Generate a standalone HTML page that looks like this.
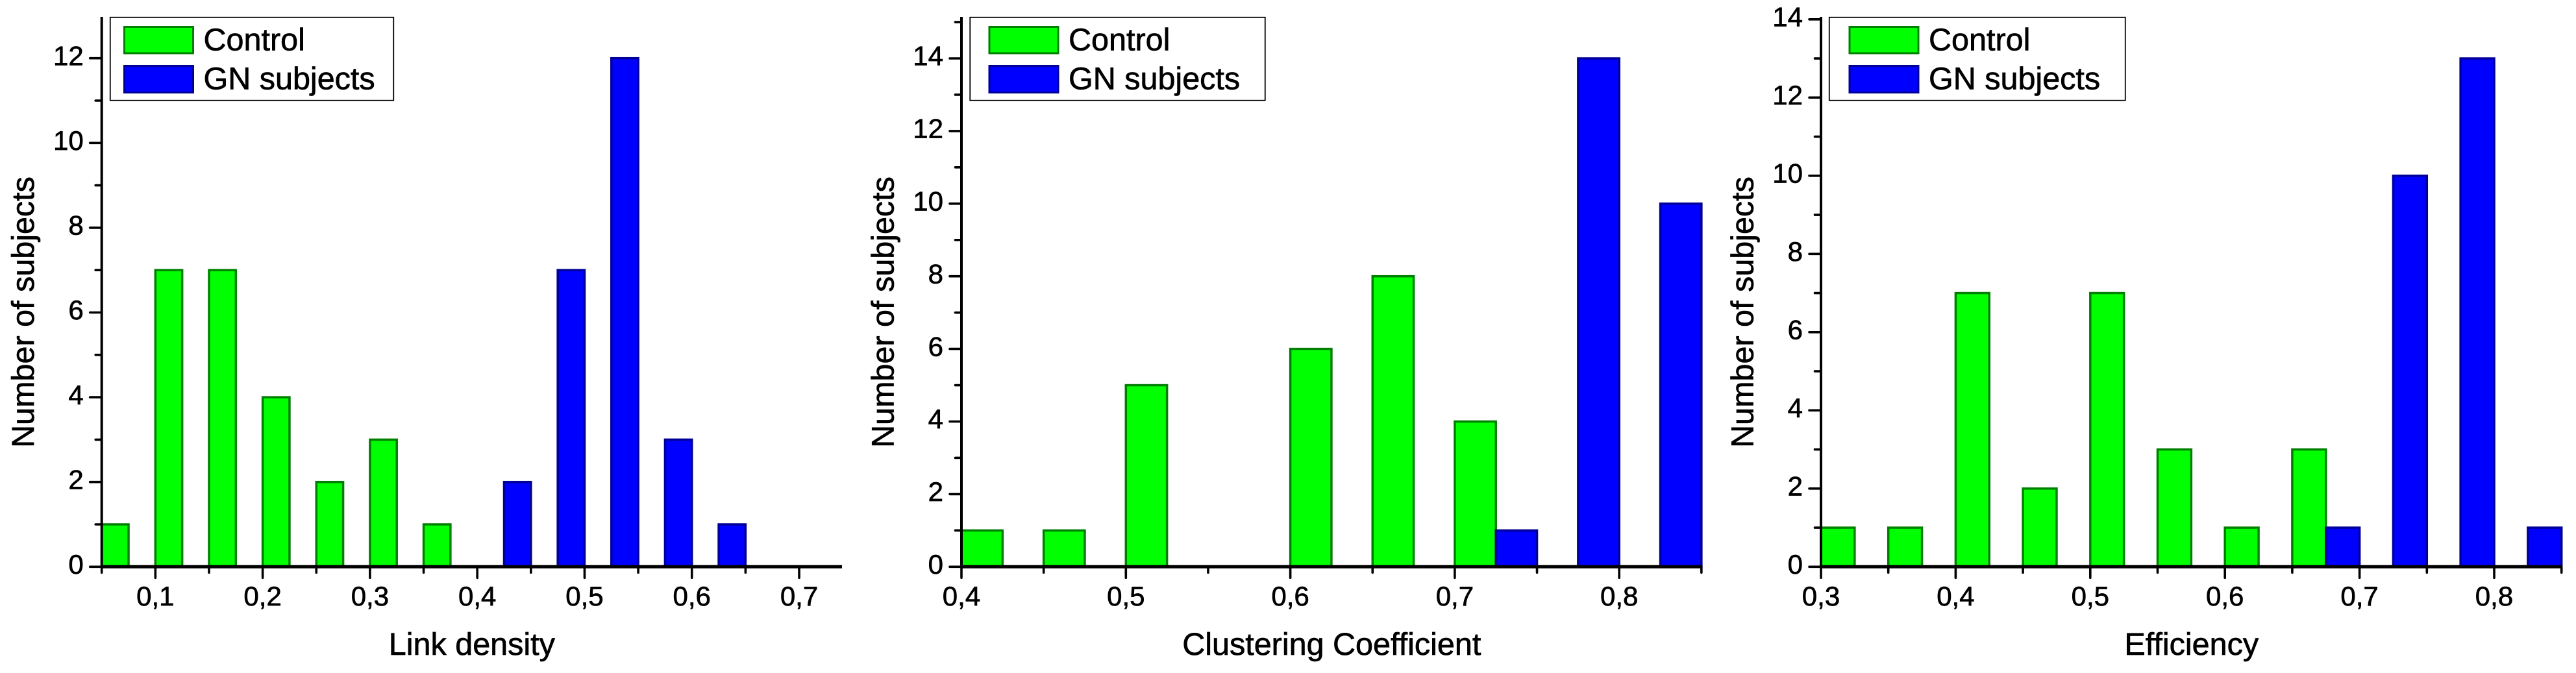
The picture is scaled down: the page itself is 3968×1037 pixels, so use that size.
<!DOCTYPE html>
<html>
<head>
<meta charset="utf-8">
<title>Histograms of network metrics: Control vs GN subjects</title>
<style>
  html, body { margin: 0; padding: 0; background: #ffffff; }
  svg { display: block; }
  text { font-family: "Liberation Sans", Arial, sans-serif; fill: #000000; stroke: #000000; stroke-width: 0.7px; }
</style>
</head>
<body>
<svg id="figure" xmlns="http://www.w3.org/2000/svg" width="3968" height="1037" viewBox="0 0 3968 1037"></svg>
<script>
// ---- Link density data ----
const linkBins = [0.05, 0.10, 0.15, 0.20, 0.25, 0.30, 0.35, 0.40, 0.45, 0.50, 0.55, 0.60];
const linkControl = [1, 7, 7, 4, 2, 3, 1, 0, 0, 0, 0, 0];
const linkGN = [0, 0, 0, 0, 0, 0, 0, 2, 7, 12, 3, 1];
const linkXMajor = [0.1, 0.2, 0.3, 0.4, 0.5, 0.6, 0.7];
const linkXLabels = ['0,1', '0,2', '0,3', '0,4', '0,5', '0,6', '0,7'];
const linkXMinor = [0.05, 0.15, 0.25, 0.35, 0.45, 0.55, 0.65];
const linkYMajor = [0, 2, 4, 6, 8, 10, 12];
const linkYMinor = [1, 3, 5, 7, 9, 11];

// ---- Clustering coefficient data ----
const clusterBins = [0.40, 0.45, 0.50, 0.55, 0.60, 0.65, 0.70, 0.75, 0.80];
const clusterControl = [1, 1, 5, 0, 6, 8, 4, 0, 0];
const clusterGN = [0, 0, 0, 0, 0, 0, 1, 14, 10];
const clusterXMajor = [0.4, 0.5, 0.6, 0.7, 0.8];
const clusterXLabels = ['0,4', '0,5', '0,6', '0,7', '0,8'];
const clusterXMinor = [0.45, 0.55, 0.65, 0.75, 0.85];
const clusterYMajor = [0, 2, 4, 6, 8, 10, 12, 14];
const clusterYMinor = [1, 3, 5, 7, 9, 11, 13, 15];

// ---- Efficiency data ----
const effBins = [0.30, 0.35, 0.40, 0.45, 0.50, 0.55, 0.60, 0.65, 0.70, 0.75, 0.80];
const effControl = [1, 1, 7, 2, 7, 3, 1, 3, 0, 0, 0];
const effGN = [0, 0, 0, 0, 0, 0, 0, 1, 10, 13, 1];
const effXMajor = [0.3, 0.4, 0.5, 0.6, 0.7, 0.8];
const effXLabels = ['0,3', '0,4', '0,5', '0,6', '0,7', '0,8'];
const effXMinor = [0.35, 0.45, 0.55, 0.65, 0.75, 0.85];
const effYMajor = [0, 2, 4, 6, 8, 10, 12, 14];
const effYMinor = [1, 3, 5, 7, 9, 11, 13];

const SVG_NS = 'http://www.w3.org/2000/svg';
const figure = document.getElementById('figure');

function make(tag, attrs, parent) {
  const el = document.createElementNS(SVG_NS, tag);
  for (const k in attrs) el.setAttribute(k, attrs[k]);
  parent.appendChild(el);
  return el;
}

function drawPanel(p) {
  const xScale = v => p.px0 + (v - p.xMin) * p.pxPerX;
  const yScale = v => p.py0 - v * p.pxPerY;
  const binWidth = 0.05;

  const g = make('g', {}, figure);
  
  

  // Bars: control takes the left half of each bin, GN the right half
  [[p.control, '#00ff00', '#008000', 'control', 0], [p.gn, '#0000ff', '#000099', 'gn', 0.5]].forEach(s => {
    p.bins.forEach((bin, i) => {
      const val = s[0][i];
      if (!(val > 0)) return;
      const x1 = xScale(bin + s[4] * binWidth);
      const x2 = xScale(bin + (s[4] + 0.5) * binWidth);
      const rect = make('rect', {
        x: x1, y: yScale(val), width: x2 - x1, height: yScale(0) - yScale(val),
        fill: s[1], stroke: s[2], 'stroke-width': 3.5
      }, g);
      
      
    });
  });

  // X ticks
  p.xMajor.forEach((v, i) => {
    const tick = make('line', { x1: xScale(v), x2: xScale(v), y1: p.py0, y2: p.py0 + 17, stroke: '#000', 'stroke-width': 3.6, 'stroke-linecap': 'round' }, g);
    
    
    const label = make('text', { x: xScale(v), y: 933, 'font-size': 42, 'text-anchor': 'middle' }, g);
    label.textContent = p.xLabels[i];
    
    
  });
  p.xMinor.forEach(v => {
    const tick = make('line', { x1: xScale(v), x2: xScale(v), y1: p.py0, y2: p.py0 + 9, stroke: '#000', 'stroke-width': 3.6, 'stroke-linecap': 'round' }, g);
    
    
  });

  // Y ticks
  p.yMajor.forEach(v => {
    const tick = make('line', { x1: p.px0 - 18, x2: p.px0, y1: yScale(v), y2: yScale(v), stroke: '#000', 'stroke-width': 3.6, 'stroke-linecap': 'round' }, g);
    
    
    const label = make('text', { x: p.px0 - 28, y: yScale(v) + 10.7, 'font-size': 42, 'text-anchor': 'end' }, g);
    label.textContent = String(v);
    
    
  });
  p.yMinor.forEach(v => {
    const tick = make('line', { x1: p.px0 - 9.5, x2: p.px0, y1: yScale(v), y2: yScale(v), stroke: '#000', 'stroke-width': 3.6, 'stroke-linecap': 'round' }, g);
    
    
  });

  // Axis lines
  const xAxis = make('line', { x1: p.px0, x2: p.xEnd, y1: p.py0, y2: p.py0, stroke: '#000', 'stroke-width': 5 }, g);
  
  
  const yAxis = make('line', { x1: p.px0, x2: p.px0, y1: 26, y2: p.py0 + 2, stroke: '#000', 'stroke-width': 4 }, g);
  
  

  // Axis titles
  const xTitle = make('text', { x: (p.px0 + p.xEnd) / 2, y: 1009, 'font-size': 48.5, 'text-anchor': 'middle' }, g);
  xTitle.textContent = p.xTitle;
  
  
  const tx = p.px0 - 104.5;
  const yTitle = make('text', { x: tx, y: 481, 'font-size': 48.5, 'text-anchor': 'middle', transform: 'rotate(-90 ' + tx + ' 481)' }, g);
  yTitle.textContent = 'Number of subjects';
  
  

  // Legend
  const legend = make('g', {}, g);
  
  
  const box = make('rect', { x: p.legendX + 0.75, y: 26.75, width: p.legendW, height: 128, fill: '#fff', stroke: '#000', 'stroke-width': 1.8 }, legend);
  
  
  const sx = p.legendX + p.legendPad;
  const swatchA = make('rect', { x: sx, y: 41.5, width: 106, height: 40.5, fill: '#00ff00', stroke: '#008000', 'stroke-width': 3 }, legend);
  
  
  const swatchB = make('rect', { x: sx, y: 101.5, width: 106, height: 41, fill: '#0000ff', stroke: '#000099', 'stroke-width': 3 }, legend);
  
  
  const labelA = make('text', { x: sx + 122, y: 77.3, 'font-size': 48.5 }, legend);
  labelA.textContent = 'Control';
  
  
  const labelB = make('text', { x: sx + 122, y: 137.3, 'font-size': 48.5 }, legend);
  labelB.textContent = 'GN subjects';
  
  
}

drawPanel({
  name: 'link-density', xTitle: 'Link density',
  bins: linkBins, control: linkControl, gn: linkGN,
  xMajor: linkXMajor, xLabels: linkXLabels, xMinor: linkXMinor, yMajor: linkYMajor, yMinor: linkYMinor,
  xMin: 0.05, px0: 156.7, pxPerX: 1652.8, xEnd: 1297, py0: 873.3, pxPerY: 65.3,
  legendX: 169, legendW: 436.5, legendPad: 22.5
});
drawPanel({
  name: 'clustering-coefficient', xTitle: 'Clustering Coefficient',
  bins: clusterBins, control: clusterControl, gn: clusterGN,
  xMajor: clusterXMajor, xLabels: clusterXLabels, xMinor: clusterXMinor, yMajor: clusterYMajor, yMinor: clusterYMinor,
  xMin: 0.4, px0: 1481, pxPerX: 2533, xEnd: 2621.5, py0: 873.3, pxPerY: 55.95,
  legendX: 1493.5, legendW: 454.5, legendPad: 30.5
});
drawPanel({
  name: 'efficiency', xTitle: 'Efficiency',
  bins: effBins, control: effControl, gn: effGN,
  xMajor: effXMajor, xLabels: effXLabels, xMinor: effXMinor, yMajor: effYMajor, yMinor: effYMinor,
  xMin: 0.3, px0: 2805, pxPerX: 2074, xEnd: 3946.5, py0: 873.3, pxPerY: 60.25,
  legendX: 2817, legendW: 456, legendPad: 32
});
</script>
</body>
</html>
